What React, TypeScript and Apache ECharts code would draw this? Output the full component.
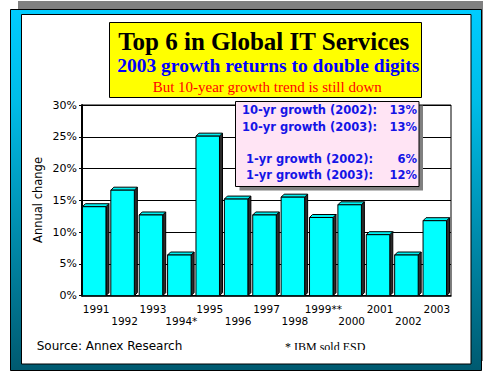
import React, { useEffect, useRef } from 'react';
import * as echarts from 'echarts';

const years = ['1991', '1992', '1993', '1994*', '1995', '1996', '1997', '1998', '1999**', '2000', '2001', '2002', '2003'];
const growth = [14.0, 16.6, 12.7, 6.4, 25.1, 15.2, 12.7, 15.5, 12.3, 14.3, 9.6, 6.4, 11.8];
const yMin = 0;
const yMax = 30;
const yStep = 5;
const titleLines = ['Top 6 in Global IT Services', '2003 growth returns to double digits', 'But 10-year growth trend is still down'];
const boxLabels = ['10-yr growth (2002):', '10-yr growth (2003):', '1-yr growth (2002):', '1-yr growth (2003):'];
const boxValues = ['13%', '13%', '6%', '12%'];
const axisName = 'Annual change';
const sourceText = 'Source: Annex Research';
const footnote = '* IBM sold ESD';

const SANS = '"DejaVu Sans", Arial, sans-serif';
const SERIF = '"Liberation Serif", "Times New Roman", serif';

export default function App() {
  const ref = useRef<HTMLDivElement>(null);
  useEffect(() => {
    if (!ref.current) return;
    const chart = echarts.init(ref.current, undefined, { renderer: 'svg' });
    const boxRowY = [110.2, 126.8, 159.2, 175.2];
    const boxRowX = [242, 242, 246, 246];
    const option: any = {
      animation: false,
      backgroundColor: '#ffffff',
      grid: {
        left: 82, top: 105, width: 369, height: 190.7,
        show: true, borderColor: '#000', borderWidth: 1, backgroundColor: 'transparent', z: 1,
      },
      xAxis: {
        type: 'category',
        data: years,
        boundaryGap: true,
        axisLine: { show: true, lineStyle: { color: '#000', width: 1.5 } },
        axisTick: { show: false },
        axisLabel: {
          interval: 0,
          hideOverlap: false,
          margin: 8,
          color: '#000',
          fontFamily: SANS,
          fontSize: 10.5,
          lineHeight: 11.5,
          formatter: (v: string, i: number) => (i % 2 === 0 ? v : '\n' + v),
        },
        splitLine: { show: false },
        z: 3,
      },
      yAxis: {
        type: 'value',
        min: yMin,
        max: yMax,
        interval: yStep,
        axisLine: { show: true, lineStyle: { color: '#000', width: 2 } },
        axisTick: { show: true, length: 3, lineStyle: { color: '#000' } },
        axisLabel: {
          formatter: '{value}%',
          color: '#000',
          fontFamily: SANS,
          fontSize: 11,
          margin: 5,
          padding: [3, 0, 0, 0],
        },
        splitLine: { show: true, lineStyle: { color: '#000', width: 1 } },
        z: 3,
      },
      series: [
        {
          type: 'custom',
          z: 4,
          data: growth.map((v, i) => [i, v]),
          encode: { x: 0, y: 1 },
          renderItem: (params: any, api: any) => {
            const idx = api.value(0);
            const v = api.value(1);
            const top = api.coord([idx, v]);
            const base = api.coord([idx, 0]);
            const bw = api.size([1, 0])[0];
            const w = bw * 0.828;
            const d = 3;
            const x0 = top[0] - (w + d) / 2 - 0.5;
            const y0 = top[1];
            const yb = base[1];
            const stroke = { stroke: '#000', lineWidth: 1 };
            return {
              type: 'group',
              children: [
                {
                  type: 'polygon',
                  shape: { points: [[x0 + w, y0], [x0 + w + d, y0 - d], [x0 + w + d, yb - d], [x0 + w, yb]] },
                  style: { fill: '#2a2a2a', ...stroke },
                },
                {
                  type: 'polygon',
                  shape: { points: [[x0, y0], [x0 + d, y0 - d], [x0 + w + d, y0 - d], [x0 + w, y0]] },
                  style: { fill: '#00f0f0', ...stroke },
                },
                {
                  type: 'rect',
                  shape: { x: x0, y: y0, width: w, height: yb - y0 },
                  style: { fill: '#00ffff', ...stroke },
                },
              ],
            };
          },
        },
      ],
      graphic: [
        { type: 'rect', z: -10, shape: { x: 18, y: 1, width: 465, height: 360 }, style: { fill: '#808080' } },
        {
          type: 'rect', z: -9,
          shape: { x: 10.5, y: 9.5, width: 471, height: 361 },
          style: {
            fill: new echarts.graphic.LinearGradient(0, 0, 0, 1, [
              { offset: 0, color: '#00ccff' },
              { offset: 0.25, color: '#00bde8' },
              { offset: 1, color: '#005a70' },
            ]),
            stroke: '#000', lineWidth: 1,
          },
        },
        { type: 'rect', z: -8, shape: { x: 21.5, y: 14.5, width: 449.5, height: 349.5 }, style: { fill: '#fff', stroke: '#000', lineWidth: 1 } },
        // title box
        { type: 'rect', z: 10, shape: { x: 109.5, y: 22.5, width: 312, height: 75 }, style: { fill: '#ffff00', stroke: '#000', lineWidth: 1 } },
        { type: 'text', z: 11, style: { text: titleLines[0], x: 263.7, y: 41.6, align: 'center', verticalAlign: 'middle', fill: '#000', font: `bold 25px ${SERIF}` } },
        { type: 'text', z: 11, style: { text: titleLines[1], x: 268.3, y: 65.1, align: 'center', verticalAlign: 'middle', fill: '#0000ff', font: `bold 19.5px ${SERIF}` } },
        { type: 'text', z: 11, style: { text: titleLines[2], x: 267.2, y: 86.6, align: 'center', verticalAlign: 'middle', fill: '#ff0000', font: `15px ${SERIF}` } },
        // info box
        { type: 'rect', z: 10, shape: { x: 239.5, y: 105.5, width: 183.5, height: 85 }, style: { fill: '#808080' } },
        { type: 'rect', z: 11, shape: { x: 235.5, y: 101.5, width: 183.5, height: 85 }, style: { fill: '#ffe4f4', stroke: '#000', lineWidth: 1 } },
        ...boxLabels.map((t, i) => ({
          type: 'text', z: 12,
          style: { text: t, x: boxRowX[i], y: boxRowY[i], align: 'left', verticalAlign: 'middle', fill: '#1414e6', font: `bold 11.5px ${SANS}` },
        })),
        ...boxValues.map((t, i) => ({
          type: 'text', z: 12,
          style: { text: t, x: 417, y: boxRowY[i], align: 'right', verticalAlign: 'middle', fill: '#1414e6', font: `bold 11.5px ${SANS}` },
        })),
        // axis name
        { type: 'text', z: 5, x: 37.5, y: 200, rotation: Math.PI / 2, style: { text: axisName, x: 0, y: 0, align: 'center', verticalAlign: 'middle', fill: '#000', font: `11.5px ${SANS}` } },
        // source + footnote
        { type: 'text', z: 5, style: { text: sourceText, x: 36.7, y: 346, align: 'left', verticalAlign: 'middle', fill: '#000', font: `12px ${SANS}` } },
        { type: 'text', z: 5, style: { text: footnote, x: 285, y: 346.5, align: 'left', verticalAlign: 'middle', fill: '#000', font: `12px ${SERIF}` } },
        { type: 'rect', z: 6, shape: { x: 280, y: 350, width: 95, height: 8 }, style: { fill: '#fff' } },
      ],
    };
    chart.setOption(option);
    return () => chart.dispose();
  }, []);
  return <div ref={ref} style={{ position: 'fixed', left: 0, top: 0, width: 483, height: 373 }} />;
}
